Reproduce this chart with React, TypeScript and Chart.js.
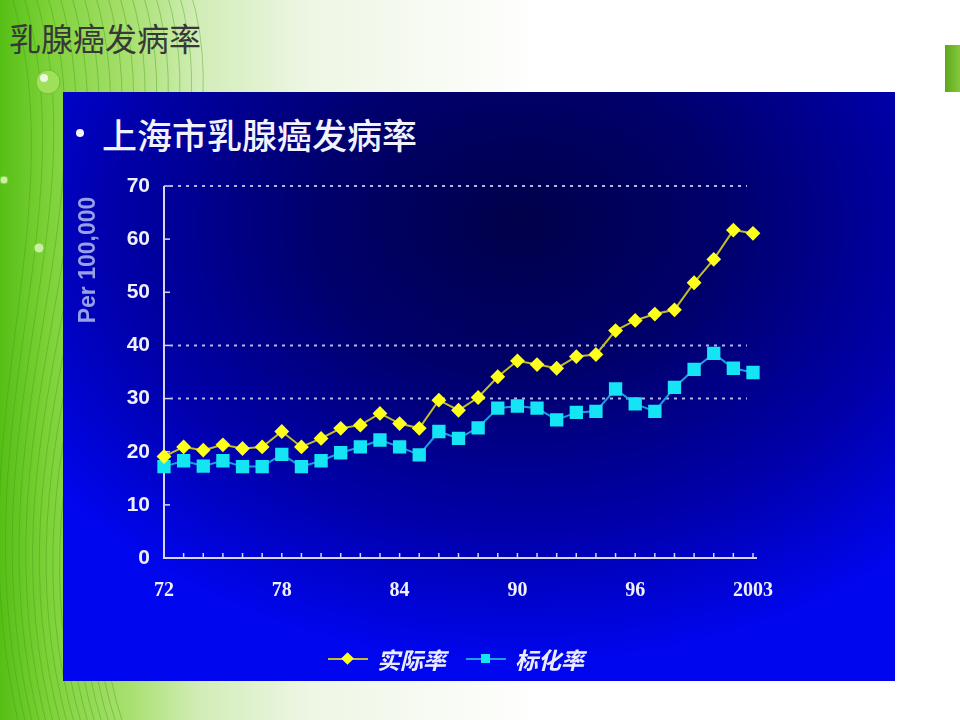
import { useEffect, useRef } from "react";
import Chart from "chart.js/auto";

// 年份（最后一点原图标为 2003）
const years = [
  "72", "73", "74", "75", "76", "77", "78", "79", "80", "81", "82",
  "83", "84", "85", "86", "87", "88", "89", "90", "91", "92", "93",
  "94", "95", "96", "97", "98", "99", "00", "01", "2003",
];
const actualRate = [
  19.1, 20.9, 20.3, 21.3, 20.6, 20.9, 23.8, 20.9, 22.5, 24.4, 25.0,
  27.2, 25.3, 24.4, 29.7, 27.8, 30.2, 34.1, 37.1, 36.4, 35.7, 37.9,
  38.3, 42.8, 44.7, 45.9, 46.7, 51.8, 56.2, 61.7, 61.1,
];
const standardRate = [
  17.2, 18.3, 17.3, 18.3, 17.2, 17.2, 19.5, 17.2, 18.3, 19.8, 20.9,
  22.2, 20.9, 19.4, 23.8, 22.5, 24.5, 28.2, 28.6, 28.2, 26.0, 27.4,
  27.6, 31.8, 29.0, 27.6, 32.1, 35.5, 38.5, 35.7, 34.9,
];
const seriesNames = ["实际率", "标化率"];
const gridValues = [30, 40, 70];

const PANEL_W = 832;
const PANEL_H = 589;

const frame = {
  id: "frame",
  beforeDatasetsDraw(chart: any) {
    const { ctx, chartArea, scales } = chart;
    const { left, right, top, bottom } = chartArea;
    const x = scales.x;
    const y = scales.y;
    ctx.save();
    // 虚线网格
    ctx.strokeStyle = "#b4b8e6";
    ctx.lineWidth = 2;
    ctx.setLineDash([3, 5]);
    gridValues.forEach((v) => {
      const py = y.getPixelForValue(v);
      ctx.beginPath();
      ctx.moveTo(left + 6, py);
      ctx.lineTo(right - 6, py);
      ctx.stroke();
    });
    ctx.setLineDash([]);
    // 坐标轴
    ctx.strokeStyle = "#d4d6f4";
    ctx.beginPath();
    ctx.moveTo(left, top);
    ctx.lineTo(left, bottom);
    ctx.lineTo(right + 4, bottom);
    ctx.stroke();
    ctx.lineWidth = 1.5;
    y.ticks.forEach((t: any) => {
      const py = y.getPixelForValue(t.value);
      ctx.beginPath();
      ctx.moveTo(left, py);
      ctx.lineTo(left + 6, py);
      ctx.stroke();
    });
    years.forEach((_, i) => {
      const px = x.getPixelForValue(i);
      ctx.beginPath();
      ctx.moveTo(px, bottom);
      ctx.lineTo(px, bottom - 5);
      ctx.stroke();
    });
    // 纵轴标题
    ctx.translate(left - 75, top + 74);
    ctx.rotate(-Math.PI / 2);
    ctx.fillStyle = "#98a0e6";
    ctx.font = 'bold 23px "Liberation Sans", Arial, sans-serif';
    ctx.textAlign = "center";
    ctx.textBaseline = "middle";
    ctx.fillText("Per 100,000", 0, 0);
    ctx.restore();
  },
};

function Decor() {
  const curves = [];
  for (let i = 0; i < 16; i++) {
    const a = 10 + i * 12;
    curves.push(
      <path
        key={"c" + i}
        d={`M ${a} -10 C ${a + 70} 220, ${-50 + i * 5} 430, ${20 + i * 7} 730`}
        stroke="#3c9e10"
        strokeOpacity={0.4}
        strokeWidth={1}
        fill="none"
      />
    );
  }
  return (
    <svg width={960} height={720} style={{ position: "absolute", left: 0, top: 0 }}>
      {curves}
      <circle cx={48} cy={82} r={12} fill="#9ee05a" stroke="#6cc030" />
      <circle cx={44} cy={78} r={4} fill="#ffffff" opacity={0.8} />
      <circle cx={39} cy={248} r={5} fill="#c8f0a0" stroke="#7ccc40" />
      <circle cx={4} cy={180} r={4} fill="#c8f0a0" stroke="#7ccc40" />
    </svg>
  );
}

export default function App() {
  const chartRef = useRef<HTMLCanvasElement | null>(null);

  useEffect(() => {
    const canvas = chartRef.current;
    if (!canvas) return;
    const ctx = canvas.getContext("2d");
    if (!ctx) return;

    const chart = new Chart(ctx, {
      type: "line",
      data: {
        labels: years,
        datasets: [
          {
            label: seriesNames[0],
            data: actualRate,
            borderColor: "#c4bc28",
            borderWidth: 2,
            pointStyle: "rectRot",
            pointRadius: 6,
            pointBackgroundColor: "#ffff1c",
            pointBorderColor: "#ffff1c",
            tension: 0,
          },
          {
            label: seriesNames[1],
            data: standardRate,
            borderColor: "#1ca0e0",
            borderWidth: 2,
            pointStyle: "rect",
            pointRadius: 8,
            pointBackgroundColor: "#14e4f4",
            pointBorderColor: "#14e4f4",
            tension: 0,
          },
        ],
      },
      options: {
        responsive: false,
        animation: false,
        layout: { padding: { left: 0, right: 142, top: 94, bottom: 83 } },
        plugins: {
          legend: { display: false },
          tooltip: { enabled: false },
        },
        scales: {
          x: {
            type: "category",
            offset: false,
            grid: { display: false, drawTicks: false },
            border: { display: false },
            ticks: {
              autoSkip: false,
              maxRotation: 0,
              padding: 21,
              color: "#f0f0ff",
              font: { family: '"Liberation Serif", "Times New Roman", serif', size: 20, weight: "bold" },
              callback: (_v: any, i: number) => (i % 6 === 0 ? years[i] : ""),
            },
            afterFit: (s: any) => {
              s.height = 40;
            },
          },
          y: {
            min: 0,
            max: 70,
            grid: { display: false, drawTicks: false },
            border: { display: false },
            ticks: {
              stepSize: 10,
              padding: 14,
              color: "#eeeefc",
              font: { family: '"Liberation Sans", Arial, sans-serif', size: 21, weight: "bold" },
            },
            afterFit: (s: any) => {
              s.width = 101;
            },
          },
        },
      },
      plugins: [frame],
    });

    return () => {
      chart.destroy();
    };
  }, []);

  const legendItems = [
    { name: seriesNames[0], line: "#c4bc28", mark: "#ffff1c", rot: true, left: 265 },
    { name: seriesNames[1], line: "#1ca0e0", mark: "#14e4f4", rot: false, left: 403 },
  ];

  return (
    <div
      style={{
        position: "fixed",
        left: 0,
        top: 0,
        width: 960,
        height: 720,
        overflow: "hidden",
        background:
          "linear-gradient(90deg, #56bf16 0px, #7fd23a 50px, #a8e070 130px, #d2edb8 200px, #eef6e4 310px, #ffffff 540px)",
      }}
    >
      <Decor />
      <div
        style={{
          position: "absolute",
          left: 9,
          top: 18,
          fontFamily: '"Noto Sans CJK SC", sans-serif',
          fontSize: 32,
          lineHeight: "38px",
          color: "#383838",
        }}
      >
        乳腺癌发病率
      </div>
      <div
        style={{
          position: "absolute",
          left: 945,
          top: 45,
          width: 15,
          height: 47,
          background: "linear-gradient(90deg, #5aa81c, #86c83c)",
        }}
      />
      <div
        style={{
          position: "absolute",
          left: 63,
          top: 92,
          width: PANEL_W,
          height: PANEL_H,
          background:
            "radial-gradient(ellipse 70% 75% at 55% 22%, #00004a 0%, #00006c 35%, #0000aa 70%, #0006ee 100%)",
        }}
      >
        <div
          style={{
            position: "absolute",
            left: 13,
            top: 37,
            width: 8,
            height: 8,
            borderRadius: "50%",
            background: "#f2f2ff",
          }}
        />
        <div
          style={{
            position: "absolute",
            left: 39,
            top: 21,
            fontFamily: '"Noto Sans CJK SC", sans-serif',
            fontSize: 35,
            lineHeight: "42px",
            fontWeight: 500,
            color: "#f2f2ff",
            whiteSpace: "nowrap",
          }}
        >
          上海市乳腺癌发病率
        </div>
        <canvas
          ref={chartRef}
          width={PANEL_W}
          height={PANEL_H}
          style={{ position: "absolute", left: 0, top: 0 }}
        ></canvas>
        {legendItems.map((it) => (
          <div
            key={it.name}
            style={{ position: "absolute", left: it.left, top: 552, height: 30, width: 140 }}
          >
            <div
              style={{
                position: "absolute",
                left: 0,
                top: 14,
                width: 40,
                height: 2,
                background: it.line,
              }}
            />
            <div
              style={{
                position: "absolute",
                left: 15,
                top: 10,
                width: 9,
                height: 9,
                background: it.mark,
                transform: it.rot ? "rotate(45deg)" : "none",
              }}
            />
            <div
              style={{
                position: "absolute",
                left: 49,
                top: 0,
                fontFamily: '"Noto Sans CJK SC", sans-serif',
                fontSize: 23,
                lineHeight: "30px",
                fontWeight: 700,
                fontStyle: "italic",
                color: "#ececff",
                whiteSpace: "nowrap",
              }}
            >
              {it.name}
            </div>
          </div>
        ))}
      </div>
    </div>
  );
}
